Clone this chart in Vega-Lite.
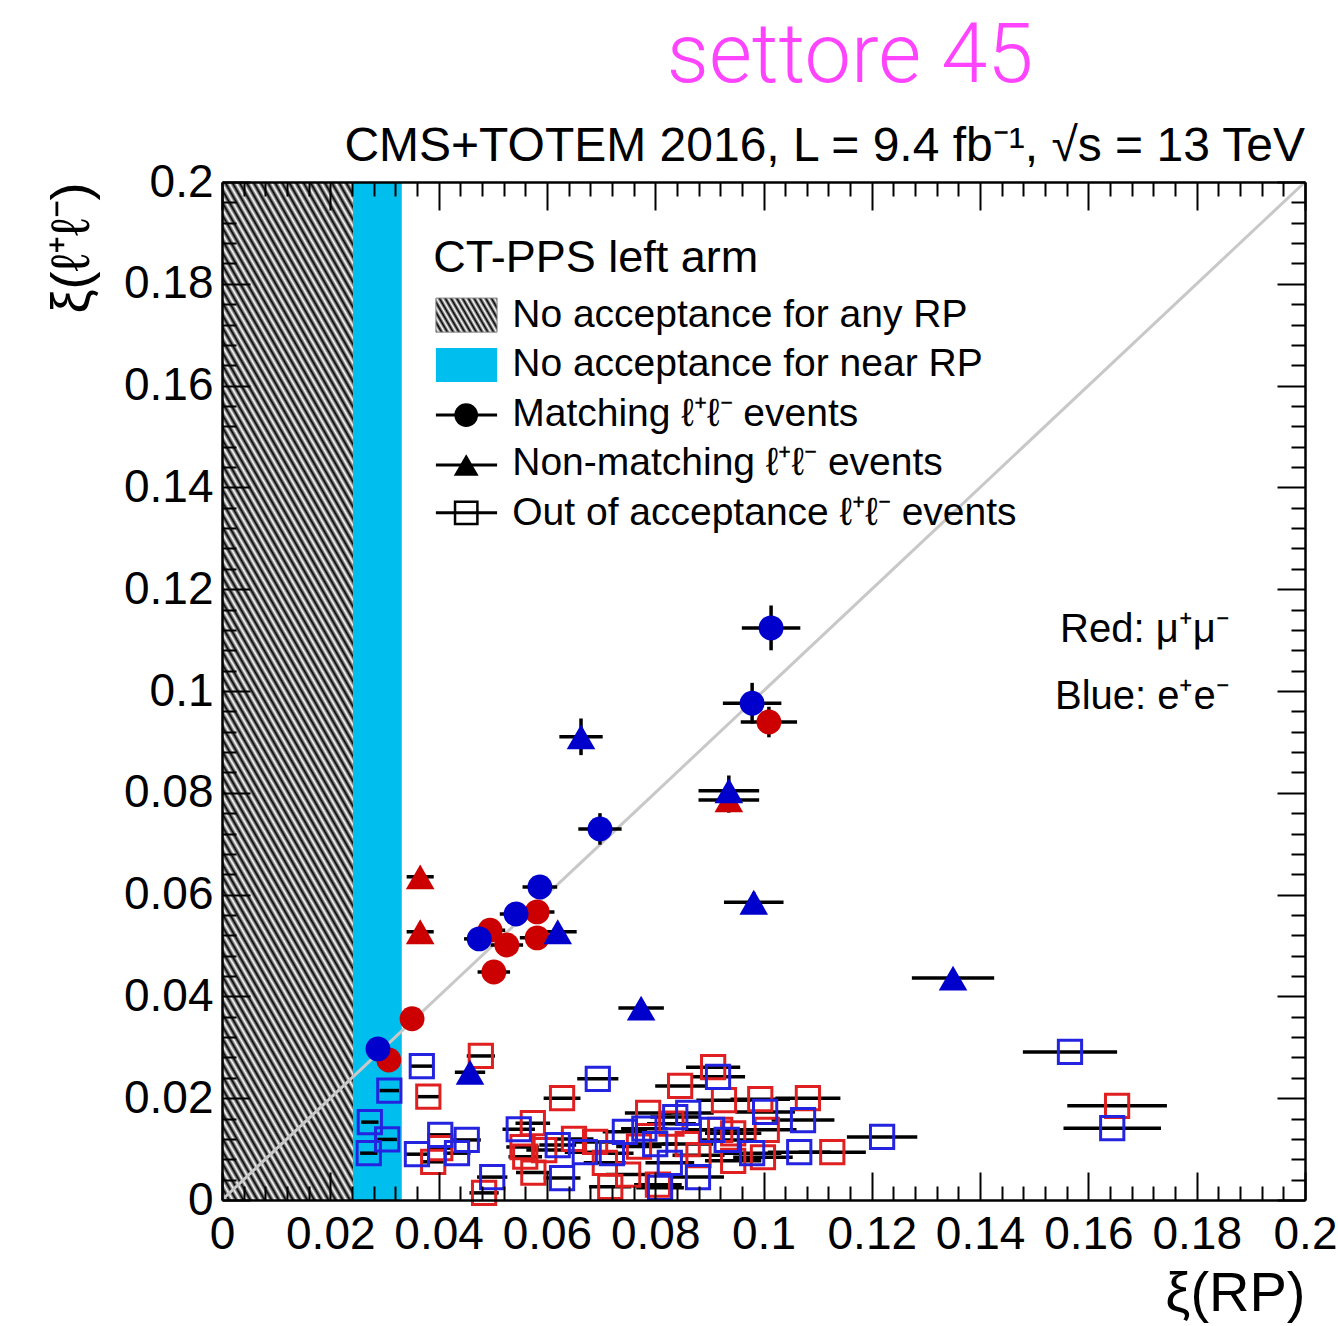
{
  "$schema": "https://vega.github.io/schema/vega-lite/v6.json",
  "width": 1083,
  "height": 1018,
  "autosize": {"type": "none"},
  "padding": {"left": 222, "top": 182, "right": 33, "bottom": 126},
  "background": "white",
  "config": {"view": {"stroke": null}, "font": "Liberation Sans"},
  "data": {"values": [{}]},
  "datasets": {
    "pts": [
      {"t":"M","f":"mu","x":0.1010,"y":0.0939,"xl":0.0958,"xh":0.1062,"yl":0.0909,"yh":0.0969},
      {"t":"M","f":"mu","x":0.0582,"y":0.0566,"xl":0.0550,"xh":0.0614,"yl":0.0546,"yh":0.0586},
      {"t":"M","f":"mu","x":0.0495,"y":0.0530,"xl":0.0467,"xh":0.0523,"yl":0.0512,"yh":0.0548},
      {"t":"M","f":"mu","x":0.0526,"y":0.0501,"xl":0.0496,"xh":0.0556,"yl":0.0483,"yh":0.0519},
      {"t":"M","f":"mu","x":0.0582,"y":0.0515,"xl":0.0550,"xh":0.0614,"yl":0.0497,"yh":0.0533},
      {"t":"M","f":"mu","x":0.0502,"y":0.0448,"xl":0.0472,"xh":0.0532,"yl":0.0432,"yh":0.0464},
      {"t":"M","f":"mu","x":0.0351,"y":0.0356,"xl":0.0329,"xh":0.0373,"yl":0.0342,"yh":0.0370},
      {"t":"M","f":"mu","x":0.0308,"y":0.0275,"xl":0.0288,"xh":0.0328,"yl":0.0263,"yh":0.0287},
      {"t":"N","f":"mu","x":0.0936,"y":0.0786,"xl":0.0880,"xh":0.0992,"yl":0.0761,"yh":0.0811},
      {"t":"N","f":"mu","x":0.0366,"y":0.0635,"xl":0.0341,"xh":0.0391,"yl":0.0620,"yh":0.0650},
      {"t":"N","f":"mu","x":0.0366,"y":0.0527,"xl":0.0341,"xh":0.0391,"yl":0.0512,"yh":0.0542},
      {"t":"M","f":"e","x":0.1014,"y":0.1124,"xl":0.0960,"xh":0.1068,"yl":0.1080,"yh":0.1168},
      {"t":"M","f":"e","x":0.0979,"y":0.0976,"xl":0.0925,"xh":0.1033,"yl":0.0936,"yh":0.1016},
      {"t":"M","f":"e","x":0.0698,"y":0.0729,"xl":0.0658,"xh":0.0738,"yl":0.0698,"yh":0.0760},
      {"t":"M","f":"e","x":0.0587,"y":0.0615,"xl":0.0555,"xh":0.0619,"yl":0.0593,"yh":0.0637},
      {"t":"M","f":"e","x":0.0543,"y":0.0562,"xl":0.0513,"xh":0.0573,"yl":0.0542,"yh":0.0582},
      {"t":"M","f":"e","x":0.0475,"y":0.0513,"xl":0.0447,"xh":0.0503,"yl":0.0495,"yh":0.0531},
      {"t":"M","f":"e","x":0.0288,"y":0.0297,"xl":0.0268,"xh":0.0308,"yl":0.0285,"yh":0.0309},
      {"t":"N","f":"e","x":0.0663,"y":0.0910,"xl":0.0623,"xh":0.0703,"yl":0.0874,"yh":0.0946},
      {"t":"N","f":"e","x":0.0936,"y":0.0804,"xl":0.0880,"xh":0.0992,"yl":0.0774,"yh":0.0834},
      {"t":"N","f":"e","x":0.0982,"y":0.0585,"xl":0.0927,"xh":0.1037,"yl":0.0565,"yh":0.0605},
      {"t":"N","f":"e","x":0.1350,"y":0.0436,"xl":0.1274,"xh":0.1426,"yl":0.0421,"yh":0.0451},
      {"t":"N","f":"e","x":0.0774,"y":0.0377,"xl":0.0732,"xh":0.0816,"yl":0.0362,"yh":0.0392},
      {"t":"N","f":"e","x":0.0620,"y":0.0527,"xl":0.0585,"xh":0.0655,"yl":0.0512,"yh":0.0542},
      {"t":"N","f":"e","x":0.0458,"y":0.0251,"xl":0.0430,"xh":0.0486,"yl":0.0239,"yh":0.0263},
      {"t":"O","f":"mu","x":0.1653,"y":0.0185,"xl":0.1561,"xh":0.1745},
      {"t":"O","f":"mu","x":0.0478,"y":0.0283,"xl":0.0452,"xh":0.0504},
      {"t":"O","f":"mu","x":0.0381,"y":0.0203,"xl":0.0360,"xh":0.0402},
      {"t":"O","f":"mu","x":0.0390,"y":0.0075,"xl":0.0369,"xh":0.0411},
      {"t":"O","f":"mu","x":0.0403,"y":0.0102,"xl":0.0381,"xh":0.0425},
      {"t":"O","f":"mu","x":0.0484,"y":0.0014,"xl":0.0457,"xh":0.0511},
      {"t":"O","f":"mu","x":0.0574,"y":0.0151,"xl":0.0542,"xh":0.0606},
      {"t":"O","f":"mu","x":0.0628,"y":0.0200,"xl":0.0594,"xh":0.0662},
      {"t":"O","f":"mu","x":0.0907,"y":0.0261,"xl":0.0857,"xh":0.0957},
      {"t":"O","f":"mu","x":0.0846,"y":0.0224,"xl":0.0800,"xh":0.0892},
      {"t":"O","f":"mu","x":0.0927,"y":0.0196,"xl":0.0876,"xh":0.0978},
      {"t":"O","f":"mu","x":0.0994,"y":0.0198,"xl":0.0939,"xh":0.1049},
      {"t":"O","f":"mu","x":0.1082,"y":0.0200,"xl":0.1022,"xh":0.1142},
      {"t":"O","f":"mu","x":0.0787,"y":0.0171,"xl":0.0744,"xh":0.0830},
      {"t":"O","f":"mu","x":0.0689,"y":0.0114,"xl":0.0651,"xh":0.0727},
      {"t":"O","f":"mu","x":0.0707,"y":0.0073,"xl":0.0668,"xh":0.0746},
      {"t":"O","f":"mu","x":0.0717,"y":0.0026,"xl":0.0678,"xh":0.0756},
      {"t":"O","f":"mu","x":0.0805,"y":0.0030,"xl":0.0761,"xh":0.0849},
      {"t":"O","f":"mu","x":0.0944,"y":0.0077,"xl":0.0892,"xh":0.0996},
      {"t":"O","f":"mu","x":0.0999,"y":0.0084,"xl":0.0944,"xh":0.1054},
      {"t":"O","f":"mu","x":0.1127,"y":0.0094,"xl":0.1065,"xh":0.1189},
      {"t":"O","f":"mu","x":0.0920,"y":0.0138,"xl":0.0870,"xh":0.0970},
      {"t":"O","f":"mu","x":0.1006,"y":0.0138,"xl":0.0951,"xh":0.1061},
      {"t":"O","f":"mu","x":0.0560,"y":0.0085,"xl":0.0529,"xh":0.0591},
      {"t":"O","f":"mu","x":0.0575,"y":0.0054,"xl":0.0543,"xh":0.0607},
      {"t":"O","f":"mu","x":0.0555,"y":0.0104,"xl":0.0525,"xh":0.0585},
      {"t":"O","f":"mu","x":0.0595,"y":0.0098,"xl":0.0562,"xh":0.0628},
      {"t":"O","f":"mu","x":0.0860,"y":0.0110,"xl":0.0813,"xh":0.0907},
      {"t":"O","f":"mu","x":0.0770,"y":0.0105,"xl":0.0728,"xh":0.0812},
      {"t":"O","f":"mu","x":0.0880,"y":0.0088,"xl":0.0832,"xh":0.0928},
      {"t":"O","f":"mu","x":0.0944,"y":0.0131,"xl":0.0892,"xh":0.0996},
      {"t":"O","f":"mu","x":0.0750,"y":0.0050,"xl":0.0709,"xh":0.0791},
      {"t":"O","f":"mu","x":0.0830,"y":0.0150,"xl":0.0785,"xh":0.0875},
      {"t":"O","f":"mu","x":0.0650,"y":0.0120,"xl":0.0614,"xh":0.0686},
      {"t":"O","f":"e","x":0.1566,"y":0.0291,"xl":0.1479,"xh":0.1653},
      {"t":"O","f":"e","x":0.1644,"y":0.0141,"xl":0.1554,"xh":0.1734},
      {"t":"O","f":"e","x":0.1219,"y":0.0124,"xl":0.1154,"xh":0.1284},
      {"t":"O","f":"e","x":0.0369,"y":0.0263,"xl":0.0347,"xh":0.0391},
      {"t":"O","f":"e","x":0.0309,"y":0.0215,"xl":0.0291,"xh":0.0327},
      {"t":"O","f":"e","x":0.0273,"y":0.0153,"xl":0.0257,"xh":0.0289},
      {"t":"O","f":"e","x":0.0305,"y":0.0119,"xl":0.0287,"xh":0.0323},
      {"t":"O","f":"e","x":0.0271,"y":0.0092,"xl":0.0255,"xh":0.0287},
      {"t":"O","f":"e","x":0.0403,"y":0.0128,"xl":0.0379,"xh":0.0427},
      {"t":"O","f":"e","x":0.0452,"y":0.0118,"xl":0.0426,"xh":0.0478},
      {"t":"O","f":"e","x":0.0360,"y":0.0090,"xl":0.0338,"xh":0.0382},
      {"t":"O","f":"e","x":0.0434,"y":0.0092,"xl":0.0409,"xh":0.0459},
      {"t":"O","f":"e","x":0.0499,"y":0.0045,"xl":0.0471,"xh":0.0527},
      {"t":"O","f":"e","x":0.0548,"y":0.0139,"xl":0.0518,"xh":0.0578},
      {"t":"O","f":"e","x":0.0628,"y":0.0043,"xl":0.0594,"xh":0.0662},
      {"t":"O","f":"e","x":0.0694,"y":0.0238,"xl":0.0656,"xh":0.0732},
      {"t":"O","f":"e","x":0.0916,"y":0.0242,"xl":0.0866,"xh":0.0966},
      {"t":"O","f":"e","x":0.1073,"y":0.0157,"xl":0.1015,"xh":0.1131},
      {"t":"O","f":"e","x":0.1003,"y":0.0173,"xl":0.0948,"xh":0.1058},
      {"t":"O","f":"e","x":0.0837,"y":0.0163,"xl":0.0791,"xh":0.0883},
      {"t":"O","f":"e","x":0.0861,"y":0.0171,"xl":0.0814,"xh":0.0908},
      {"t":"O","f":"e","x":0.0744,"y":0.0134,"xl":0.0703,"xh":0.0785},
      {"t":"O","f":"e","x":0.0670,"y":0.0094,"xl":0.0633,"xh":0.0707},
      {"t":"O","f":"e","x":0.0720,"y":0.0092,"xl":0.0680,"xh":0.0760},
      {"t":"O","f":"e","x":0.0809,"y":0.0024,"xl":0.0765,"xh":0.0853},
      {"t":"O","f":"e","x":0.0879,"y":0.0045,"xl":0.0831,"xh":0.0927},
      {"t":"O","f":"e","x":0.0827,"y":0.0073,"xl":0.0782,"xh":0.0872},
      {"t":"O","f":"e","x":0.0979,"y":0.0092,"xl":0.0925,"xh":0.1033},
      {"t":"O","f":"e","x":0.1066,"y":0.0094,"xl":0.1008,"xh":0.1124},
      {"t":"O","f":"e","x":0.0932,"y":0.0118,"xl":0.0881,"xh":0.0983},
      {"t":"O","f":"e","x":0.0905,"y":0.0138,"xl":0.0855,"xh":0.0955},
      {"t":"O","f":"e","x":0.0620,"y":0.0108,"xl":0.0586,"xh":0.0654},
      {"t":"O","f":"e","x":0.0800,"y":0.0110,"xl":0.0756,"xh":0.0844},
      {"t":"O","f":"e","x":0.0780,"y":0.0140,"xl":0.0737,"xh":0.0823}
    ]
  },
  "resolve": {"axis": {"x": "independent", "y": "independent"}},
  "layer": [
    {
      "mark": {"type": "rect", "fill": {"gradient": "linear", "x1": 0, "y1": 1, "x2": 0.2635, "y2": -0.166, "stops": [
        {"offset":0,"color":"#000"},{"offset":0.005,"color":"#fff"},{"offset":0.01,"color":"#000"},{"offset":0.015,"color":"#fff"},{"offset":0.02,"color":"#000"},{"offset":0.025,"color":"#fff"},{"offset":0.03,"color":"#000"},{"offset":0.035,"color":"#fff"},{"offset":0.04,"color":"#000"},{"offset":0.045,"color":"#fff"},
        {"offset":0.05,"color":"#000"},{"offset":0.055,"color":"#fff"},{"offset":0.06,"color":"#000"},{"offset":0.065,"color":"#fff"},{"offset":0.07,"color":"#000"},{"offset":0.075,"color":"#fff"},{"offset":0.08,"color":"#000"},{"offset":0.085,"color":"#fff"},{"offset":0.09,"color":"#000"},{"offset":0.095,"color":"#fff"},
        {"offset":0.1,"color":"#000"},{"offset":0.105,"color":"#fff"},{"offset":0.11,"color":"#000"},{"offset":0.115,"color":"#fff"},{"offset":0.12,"color":"#000"},{"offset":0.125,"color":"#fff"},{"offset":0.13,"color":"#000"},{"offset":0.135,"color":"#fff"},{"offset":0.14,"color":"#000"},{"offset":0.145,"color":"#fff"},
        {"offset":0.15,"color":"#000"},{"offset":0.155,"color":"#fff"},{"offset":0.16,"color":"#000"},{"offset":0.165,"color":"#fff"},{"offset":0.17,"color":"#000"},{"offset":0.175,"color":"#fff"},{"offset":0.18,"color":"#000"},{"offset":0.185,"color":"#fff"},{"offset":0.19,"color":"#000"},{"offset":0.195,"color":"#fff"},
        {"offset":0.2,"color":"#000"},{"offset":0.205,"color":"#fff"},{"offset":0.21,"color":"#000"},{"offset":0.215,"color":"#fff"},{"offset":0.22,"color":"#000"},{"offset":0.225,"color":"#fff"},{"offset":0.23,"color":"#000"},{"offset":0.235,"color":"#fff"},{"offset":0.24,"color":"#000"},{"offset":0.245,"color":"#fff"},
        {"offset":0.25,"color":"#000"},{"offset":0.255,"color":"#fff"},{"offset":0.26,"color":"#000"},{"offset":0.265,"color":"#fff"},{"offset":0.27,"color":"#000"},{"offset":0.275,"color":"#fff"},{"offset":0.28,"color":"#000"},{"offset":0.285,"color":"#fff"},{"offset":0.29,"color":"#000"},{"offset":0.295,"color":"#fff"},
        {"offset":0.3,"color":"#000"},{"offset":0.305,"color":"#fff"},{"offset":0.31,"color":"#000"},{"offset":0.315,"color":"#fff"},{"offset":0.32,"color":"#000"},{"offset":0.325,"color":"#fff"},{"offset":0.33,"color":"#000"},{"offset":0.335,"color":"#fff"},{"offset":0.34,"color":"#000"},{"offset":0.345,"color":"#fff"},
        {"offset":0.35,"color":"#000"},{"offset":0.355,"color":"#fff"},{"offset":0.36,"color":"#000"},{"offset":0.365,"color":"#fff"},{"offset":0.37,"color":"#000"},{"offset":0.375,"color":"#fff"},{"offset":0.38,"color":"#000"},{"offset":0.385,"color":"#fff"},{"offset":0.39,"color":"#000"},{"offset":0.395,"color":"#fff"},
        {"offset":0.4,"color":"#000"},{"offset":0.405,"color":"#fff"},{"offset":0.41,"color":"#000"},{"offset":0.415,"color":"#fff"},{"offset":0.42,"color":"#000"},{"offset":0.425,"color":"#fff"},{"offset":0.43,"color":"#000"},{"offset":0.435,"color":"#fff"},{"offset":0.44,"color":"#000"},{"offset":0.445,"color":"#fff"},
        {"offset":0.45,"color":"#000"},{"offset":0.455,"color":"#fff"},{"offset":0.46,"color":"#000"},{"offset":0.465,"color":"#fff"},{"offset":0.47,"color":"#000"},{"offset":0.475,"color":"#fff"},{"offset":0.48,"color":"#000"},{"offset":0.485,"color":"#fff"},{"offset":0.49,"color":"#000"},{"offset":0.495,"color":"#fff"},
        {"offset":0.5,"color":"#000"},{"offset":0.505,"color":"#fff"},{"offset":0.51,"color":"#000"},{"offset":0.515,"color":"#fff"},{"offset":0.52,"color":"#000"},{"offset":0.525,"color":"#fff"},{"offset":0.53,"color":"#000"},{"offset":0.535,"color":"#fff"},{"offset":0.54,"color":"#000"},{"offset":0.545,"color":"#fff"},
        {"offset":0.55,"color":"#000"},{"offset":0.555,"color":"#fff"},{"offset":0.56,"color":"#000"},{"offset":0.565,"color":"#fff"},{"offset":0.57,"color":"#000"},{"offset":0.575,"color":"#fff"},{"offset":0.58,"color":"#000"},{"offset":0.585,"color":"#fff"},{"offset":0.59,"color":"#000"},{"offset":0.595,"color":"#fff"},
        {"offset":0.6,"color":"#000"},{"offset":0.605,"color":"#fff"},{"offset":0.61,"color":"#000"},{"offset":0.615,"color":"#fff"},{"offset":0.62,"color":"#000"},{"offset":0.625,"color":"#fff"},{"offset":0.63,"color":"#000"},{"offset":0.635,"color":"#fff"},{"offset":0.64,"color":"#000"},{"offset":0.645,"color":"#fff"},
        {"offset":0.65,"color":"#000"},{"offset":0.655,"color":"#fff"},{"offset":0.66,"color":"#000"},{"offset":0.665,"color":"#fff"},{"offset":0.67,"color":"#000"},{"offset":0.675,"color":"#fff"},{"offset":0.68,"color":"#000"},{"offset":0.685,"color":"#fff"},{"offset":0.69,"color":"#000"},{"offset":0.695,"color":"#fff"},
        {"offset":0.7,"color":"#000"},{"offset":0.705,"color":"#fff"},{"offset":0.71,"color":"#000"},{"offset":0.715,"color":"#fff"},{"offset":0.72,"color":"#000"},{"offset":0.725,"color":"#fff"},{"offset":0.73,"color":"#000"},{"offset":0.735,"color":"#fff"},{"offset":0.74,"color":"#000"},{"offset":0.745,"color":"#fff"},
        {"offset":0.75,"color":"#000"},{"offset":0.755,"color":"#fff"},{"offset":0.76,"color":"#000"},{"offset":0.765,"color":"#fff"},{"offset":0.77,"color":"#000"},{"offset":0.775,"color":"#fff"},{"offset":0.78,"color":"#000"},{"offset":0.785,"color":"#fff"},{"offset":0.79,"color":"#000"},{"offset":0.795,"color":"#fff"},
        {"offset":0.8,"color":"#000"},{"offset":0.805,"color":"#fff"},{"offset":0.81,"color":"#000"},{"offset":0.815,"color":"#fff"},{"offset":0.82,"color":"#000"},{"offset":0.825,"color":"#fff"},{"offset":0.83,"color":"#000"},{"offset":0.835,"color":"#fff"},{"offset":0.84,"color":"#000"},{"offset":0.845,"color":"#fff"},
        {"offset":0.85,"color":"#000"},{"offset":0.855,"color":"#fff"},{"offset":0.86,"color":"#000"},{"offset":0.865,"color":"#fff"},{"offset":0.87,"color":"#000"},{"offset":0.875,"color":"#fff"},{"offset":0.88,"color":"#000"},{"offset":0.885,"color":"#fff"},{"offset":0.89,"color":"#000"},{"offset":0.895,"color":"#fff"},
        {"offset":0.9,"color":"#000"},{"offset":0.905,"color":"#fff"},{"offset":0.91,"color":"#000"},{"offset":0.915,"color":"#fff"},{"offset":0.92,"color":"#000"},{"offset":0.925,"color":"#fff"},{"offset":0.93,"color":"#000"},{"offset":0.935,"color":"#fff"},{"offset":0.94,"color":"#000"},{"offset":0.945,"color":"#fff"},
        {"offset":0.95,"color":"#000"},{"offset":0.955,"color":"#fff"},{"offset":0.96,"color":"#000"},{"offset":0.965,"color":"#fff"},{"offset":0.97,"color":"#000"},{"offset":0.975,"color":"#fff"},{"offset":0.98,"color":"#000"},{"offset":0.985,"color":"#fff"},{"offset":0.99,"color":"#000"},{"offset":0.995,"color":"#fff"},
        {"offset":1,"color":"#000"}
      ]}},
      "encoding": {
        "x": {"datum": 0, "type": "quantitative", "scale": {"domain": [0, 0.2], "nice": false, "zero": false},
          "axis": {"orient": "top", "tickCount": 100, "values": [0,0.004,0.008,0.012,0.016,0.02,0.024,0.028,0.032,0.036,0.04,0.044,0.048,0.052,0.056,0.06,0.064,0.068,0.072,0.076,0.08,0.084,0.088,0.092,0.096,0.1,0.104,0.108,0.112,0.116,0.12,0.124,0.128,0.132,0.136,0.14,0.144,0.148,0.152,0.156,0.16,0.164,0.168,0.172,0.176,0.18,0.184,0.188,0.192,0.196,0.2],
            "labels": false, "title": null, "grid": false, "zindex": 1, "domainColor": "black", "domainWidth": 2.5, "tickColor": "black", "tickWidth": 2,
            "tickSize": {"condition": {"test": "abs(datum.value*50 - round(datum.value*50)) < 0.01", "value": -28}, "value": -14}}},
        "x2": {"datum": 0.0242},
        "y": {"datum": 0, "type": "quantitative", "scale": {"domain": [0, 0.2], "nice": false, "zero": false},
          "axis": {"orient": "right", "tickCount": 100, "values": [0,0.004,0.008,0.012,0.016,0.02,0.024,0.028,0.032,0.036,0.04,0.044,0.048,0.052,0.056,0.06,0.064,0.068,0.072,0.076,0.08,0.084,0.088,0.092,0.096,0.1,0.104,0.108,0.112,0.116,0.12,0.124,0.128,0.132,0.136,0.14,0.144,0.148,0.152,0.156,0.16,0.164,0.168,0.172,0.176,0.18,0.184,0.188,0.192,0.196,0.2],
            "labels": false, "title": null, "grid": false, "zindex": 1, "domainColor": "black", "domainWidth": 2.5, "tickColor": "black", "tickWidth": 2,
            "tickSize": {"condition": {"test": "abs(datum.value*50 - round(datum.value*50)) < 0.01", "value": -28}, "value": -14}}},
        "y2": {"datum": 0.2}
      }
    },
    {
      "layer": [
        {
          "mark": {"type": "rect", "fill": "#00bfef"},
          "encoding": {
            "x": {"datum": 0.0242, "type": "quantitative", "scale": {"domain": [0, 0.2], "nice": false, "zero": false},
              "axis": {"orient": "bottom", "tickCount": 100, "values": [0,0.004,0.008,0.012,0.016,0.02,0.024,0.028,0.032,0.036,0.04,0.044,0.048,0.052,0.056,0.06,0.064,0.068,0.072,0.076,0.08,0.084,0.088,0.092,0.096,0.1,0.104,0.108,0.112,0.116,0.12,0.124,0.128,0.132,0.136,0.14,0.144,0.148,0.152,0.156,0.16,0.164,0.168,0.172,0.176,0.18,0.184,0.188,0.192,0.196,0.2],
                "labelExpr": "abs(datum.value*50 - round(datum.value*50)) < 0.01 ? format(datum.value, '.2~f') : ''",
                "labelOverlap": false, "labelFlush": false, "labelBound": false, "labelFontSize": 46, "labelColor": "black", "labelPadding": 40,
                "title": "ξ(RP)", "titleFontSize": 56, "titleFontWeight": "normal", "titleColor": "black", "titleAnchor": "end", "titleBaseline": "alphabetic", "titleY": 110,
                "grid": false, "zindex": 1, "domainColor": "black", "domainWidth": 2.5, "tickColor": "black", "tickWidth": 2,
                "tickSize": {"condition": {"test": "abs(datum.value*50 - round(datum.value*50)) < 0.01", "value": -28}, "value": -14}}},
            "x2": {"datum": 0.0332},
            "y": {"datum": 0, "type": "quantitative", "scale": {"domain": [0, 0.2], "nice": false, "zero": false},
              "axis": {"orient": "left", "tickCount": 100, "values": [0,0.004,0.008,0.012,0.016,0.02,0.024,0.028,0.032,0.036,0.04,0.044,0.048,0.052,0.056,0.06,0.064,0.068,0.072,0.076,0.08,0.084,0.088,0.092,0.096,0.1,0.104,0.108,0.112,0.116,0.12,0.124,0.128,0.132,0.136,0.14,0.144,0.148,0.152,0.156,0.16,0.164,0.168,0.172,0.176,0.18,0.184,0.188,0.192,0.196,0.2],
                "labelExpr": "abs(datum.value*50 - round(datum.value*50)) < 0.01 ? format(datum.value, '.2~f') : ''",
                "labelOverlap": false, "labelFlush": false, "labelBound": false, "labelFontSize": 46, "labelColor": "black", "labelPadding": 37,
                "title": "ξ(ℓ⁺ℓ⁻)", "titleFontSize": 54, "titleFontWeight": "normal", "titleColor": "black", "titleAnchor": "end", "titleBaseline": "alphabetic", "titleX": -134,
                "grid": false, "zindex": 1, "domainColor": "black", "domainWidth": 2.5, "tickColor": "black", "tickWidth": 2,
                "tickSize": {"condition": {"test": "abs(datum.value*50 - round(datum.value*50)) < 0.01", "value": -28}, "value": -14}}},
            "y2": {"datum": 0.2}
          }
        },
        {
          "mark": {"type": "rule", "color": "#c8c8c8", "strokeWidth": 3},
          "encoding": {"x": {"datum": 0, "type": "quantitative"}, "x2": {"datum": 0.2}, "y": {"datum": 0, "type": "quantitative"}, "y2": {"datum": 0.2}}
        },
        {
          "data": {"name": "pts"},
          "mark": {"type": "rule", "color": "black", "strokeWidth": 3.5},
          "encoding": {"x": {"field": "xl", "type": "quantitative"}, "x2": {"field": "xh"}, "y": {"field": "y", "type": "quantitative"}}
        },
        {
          "data": {"name": "pts"},
          "transform": [{"filter": "datum.t != 'O'"}],
          "mark": {"type": "rule", "color": "black", "strokeWidth": 3.5},
          "encoding": {"x": {"field": "x", "type": "quantitative"}, "y": {"field": "yl", "type": "quantitative"}, "y2": {"field": "yh"}}
        },
        {
          "data": {"name": "pts"},
          "transform": [{"filter": "datum.t == 'O'"}],
          "mark": {"type": "point", "shape": "square", "filled": false, "strokeWidth": 3, "size": 540, "opacity": 1},
          "encoding": {
            "x": {"field": "x", "type": "quantitative"},
            "y": {"field": "y", "type": "quantitative"},
            "stroke": {"field": "f", "type": "nominal", "scale": {"domain": ["mu", "e"], "range": ["#e02020", "#2424e0"]}, "legend": null}
          }
        },
        {
          "data": {"name": "pts"},
          "transform": [{"filter": "datum.t != 'O'"}],
          "mark": {"type": "point", "filled": true, "opacity": 1, "strokeWidth": 0},
          "encoding": {
            "x": {"field": "x", "type": "quantitative"},
            "y": {"field": "y", "type": "quantitative"},
            "fill": {"field": "f", "type": "nominal", "scale": {"domain": ["mu", "e"], "range": ["#cc0000", "#0000cc"]}, "legend": null},
            "shape": {"field": "t", "type": "nominal", "scale": {"domain": ["M", "N"], "range": ["circle", "triangle-up"]}, "legend": null},
            "size": {"field": "t", "type": "nominal", "scale": {"domain": ["M", "N"], "range": [620, 820]}, "legend": null}
          }
        },
        {
          "mark": {"type": "text", "text": "CT-PPS left arm", "fontSize": 45, "align": "left", "baseline": "middle", "color": "black"},
          "encoding": {"x": {"datum": 0.0390, "type": "quantitative"}, "y": {"datum": 0.1851, "type": "quantitative"}}
        },
        {
          "mark": {"type": "rect", "stroke": "#888", "strokeWidth": 1, "fill": {"gradient": "linear", "x1": 0, "y1": 1, "x2": 1.198, "y2": 0.614, "stops": [
            {"offset":0,"color":"#000"},{"offset":0.0357,"color":"#fff"},{"offset":0.0714,"color":"#000"},{"offset":0.1071,"color":"#fff"},{"offset":0.1429,"color":"#000"},{"offset":0.1786,"color":"#fff"},{"offset":0.2143,"color":"#000"},{"offset":0.25,"color":"#fff"},{"offset":0.2857,"color":"#000"},{"offset":0.3214,"color":"#fff"},{"offset":0.3571,"color":"#000"},{"offset":0.3929,"color":"#fff"},{"offset":0.4286,"color":"#000"},{"offset":0.4643,"color":"#fff"},{"offset":0.5,"color":"#000"},{"offset":0.5357,"color":"#fff"},{"offset":0.5714,"color":"#000"},{"offset":0.6071,"color":"#fff"},{"offset":0.6429,"color":"#000"},{"offset":0.6786,"color":"#fff"},{"offset":0.7143,"color":"#000"},{"offset":0.75,"color":"#fff"},{"offset":0.7857,"color":"#000"},{"offset":0.8214,"color":"#fff"},{"offset":0.8571,"color":"#000"},{"offset":0.8929,"color":"#fff"},{"offset":0.9286,"color":"#000"},{"offset":0.9643,"color":"#fff"},{"offset":1,"color":"#000"}
          ]}},
          "encoding": {"x": {"datum": 0.0395, "type": "quantitative"}, "x2": {"datum": 0.0508}, "y": {"datum": 0.1705, "type": "quantitative"}, "y2": {"datum": 0.1772}}
        },
        {
          "mark": {"type": "rect", "fill": "#00bfef"},
          "encoding": {"x": {"datum": 0.0395, "type": "quantitative"}, "x2": {"datum": 0.0508}, "y": {"datum": 0.1607, "type": "quantitative"}, "y2": {"datum": 0.1674}}
        },
        {
          "mark": {"type": "rule", "color": "black", "strokeWidth": 3},
          "encoding": {"x": {"datum": 0.0395, "type": "quantitative"}, "x2": {"datum": 0.0508}, "y": {"datum": 0.1542, "type": "quantitative"}}
        },
        {
          "mark": {"type": "rule", "color": "black", "strokeWidth": 3},
          "encoding": {"x": {"datum": 0.0395, "type": "quantitative"}, "x2": {"datum": 0.0508}, "y": {"datum": 0.1444, "type": "quantitative"}}
        },
        {
          "mark": {"type": "rule", "color": "black", "strokeWidth": 3},
          "encoding": {"x": {"datum": 0.0395, "type": "quantitative"}, "x2": {"datum": 0.0508}, "y": {"datum": 0.1350, "type": "quantitative"}}
        },
        {
          "mark": {"type": "point", "shape": "circle", "filled": true, "color": "black", "size": 560, "opacity": 1},
          "encoding": {"x": {"datum": 0.0451, "type": "quantitative"}, "y": {"datum": 0.1542, "type": "quantitative"}}
        },
        {
          "mark": {"type": "point", "shape": "triangle-up", "filled": true, "color": "black", "size": 620, "opacity": 1},
          "encoding": {"x": {"datum": 0.0451, "type": "quantitative"}, "y": {"datum": 0.1444, "type": "quantitative"}}
        },
        {
          "mark": {"type": "point", "shape": "square", "filled": false, "color": "black", "strokeWidth": 2.5, "size": 500, "opacity": 1},
          "encoding": {"x": {"datum": 0.0451, "type": "quantitative"}, "y": {"datum": 0.1350, "type": "quantitative"}}
        },
        {
          "mark": {"type": "text", "text": ["No acceptance for any RP", "No acceptance for near RP", "Matching ℓ⁺ℓ⁻ events", "Non-matching ℓ⁺ℓ⁻ events", "Out of acceptance ℓ⁺ℓ⁻ events"], "fontSize": 39, "lineHeight": 49.5, "align": "left", "baseline": "middle", "color": "black"},
          "encoding": {"x": {"datum": 0.0536, "type": "quantitative"}, "y": {"datum": 0.1739, "type": "quantitative"}}
        },
        {
          "mark": {"type": "text", "text": ["Red: μ⁺μ⁻", "Blue: e⁺e⁻"], "fontSize": 40, "lineHeight": 67, "align": "right", "baseline": "middle", "color": "black"},
          "encoding": {"x": {"datum": 0.1861, "type": "quantitative"}, "y": {"datum": 0.1120, "type": "quantitative"}}
        },
        {
          "mark": {"type": "text", "text": "CMS+TOTEM 2016, L = 9.4 fb⁻¹, √s = 13 TeV", "fontSize": 48, "align": "right", "baseline": "alphabetic", "dy": -21, "color": "black"},
          "encoding": {"x": {"datum": 0.2, "type": "quantitative"}, "y": {"datum": 0.2, "type": "quantitative"}}
        },
        {
          "mark": {"type": "text", "text": "settore 45", "font": "Roboto", "fontWeight": 300, "fontSize": 83, "align": "center", "baseline": "alphabetic", "dy": -100, "color": "#ff44ff"},
          "encoding": {"x": {"datum": 0.116, "type": "quantitative"}, "y": {"datum": 0.2, "type": "quantitative"}}
        }
      ]
    }
  ]
}
